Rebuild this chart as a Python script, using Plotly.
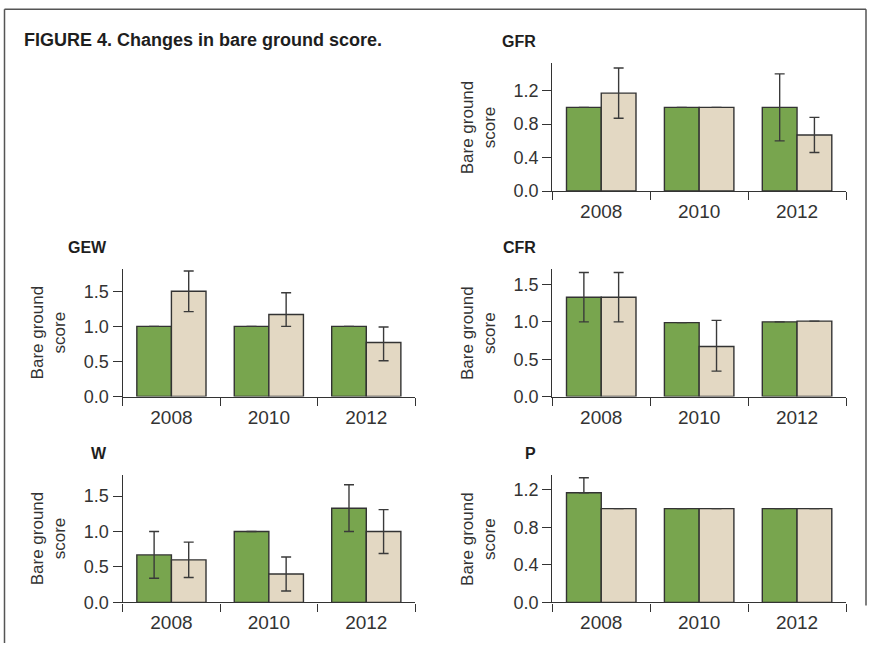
import plotly.graph_objects as go

# ---- data -------------------------------------------------------------
years = ["2008", "2010", "2012"]

panel_names = ["GFR", "GEW", "CFR", "W", "P"]

# green series (first bar of each pair)
gfr_green = [1.0, 1.0, 1.0]
gew_green = [1.0, 1.0, 1.0]
cfr_green = [1.33, 0.99, 1.0]
w_green = [0.67, 1.0, 1.33]
p_green = [1.17, 1.0, 1.0]

# beige series (second bar of each pair)
gfr_beige = [1.17, 1.0, 0.67]
gew_beige = [1.5, 1.17, 0.77]
cfr_beige = [1.33, 0.67, 1.01]
w_beige = [0.6, 0.4, 1.0]
p_beige = [1.0, 1.0, 1.0]

# error bars (upper / lower); None = no bar drawn
gfr_green_up = [None, None, 0.4]
gfr_green_dn = [None, None, 0.4]
gfr_beige_up = [0.3, None, 0.21]
gfr_beige_dn = [0.3, None, 0.21]
gew_green_up = [None, None, None]
gew_green_dn = [None, None, None]
gew_beige_up = [0.29, 0.31, 0.22]
gew_beige_dn = [0.29, 0.17, 0.26]
cfr_green_up = [0.33, None, None]
cfr_green_dn = [0.33, None, None]
cfr_beige_up = [0.33, 0.35, None]
cfr_beige_dn = [0.33, 0.33, None]
w_green_up = [0.33, None, 0.33]
w_green_dn = [0.33, None, 0.33]
w_beige_up = [0.25, 0.24, 0.31]
w_beige_dn = [0.25, 0.24, 0.31]
p_green_up = [0.16, None, None]
p_green_dn = [0.0, None, None]
p_beige_up = [None, None, None]
p_beige_dn = [None, None, None]

# y-axis ranges and ticks per panel
y_tops = [1.53, 1.82, 1.71, 1.80, 1.36]
y_ticks = [[0.0, 0.4, 0.8, 1.2],
           [0.0, 0.5, 1.0, 1.5],
           [0.0, 0.5, 1.0, 1.5],
           [0.0, 0.5, 1.0, 1.5],
           [0.0, 0.4, 0.8, 1.2]]

title_text = "FIGURE 4. Changes in bare ground score."
y_title = "Bare ground<br>score"

# ---- styling ----------------------------------------------------------
W, H = 869, 653
GREEN = "#78a54e"
BEIGE = "#e3d8c3"
EDGE = "#333333"
AXIS = "#333333"
FONT = "Liberation Sans, Arial, sans-serif"

# panel grid (pixels): left/right column x-extents, row y-extents
col_px = {"L": (122.7, 415.0), "R": (552.3, 846.0)}
row_px = [(64.0, 194.0), (273.0, 402.7), (482.3, 611.7)]
placement = [("R", 0), ("L", 1), ("R", 1), ("L", 2), ("R", 2)]

series = [
    (gfr_green, gfr_green_up, gfr_green_dn, gfr_beige, gfr_beige_up, gfr_beige_dn),
    (gew_green, gew_green_up, gew_green_dn, gew_beige, gew_beige_up, gew_beige_dn),
    (cfr_green, cfr_green_up, cfr_green_dn, cfr_beige, cfr_beige_up, cfr_beige_dn),
    (w_green, w_green_up, w_green_dn, w_beige, w_beige_up, w_beige_dn),
    (p_green, p_green_up, p_green_dn, p_beige, p_beige_up, p_beige_dn),
]

fig = go.Figure()
annotations = []

for i, (name, (col, row), data) in enumerate(zip(panel_names, placement, series)):
    n = i + 1
    xs = "" if n == 1 else str(n)
    g, g_up, g_dn, b, b_up, b_dn = data
    for vals, up, dn, color in ((g, g_up, g_dn, GREEN), (b, b_up, b_dn, BEIGE)):
        fig.add_trace(go.Bar(
            x=years, y=vals,
            xaxis="x" + xs, yaxis="y" + xs,
            marker=dict(color=color, line=dict(color=EDGE, width=1.4)),
            error_y=dict(type="data", symmetric=False, array=up, arrayminus=dn,
                         color="#3a3a3a", thickness=1.4, width=5),
            showlegend=False, hoverinfo="skip",
        ))

    x0, x1 = col_px[col]
    y0, y1 = row_px[row]
    xdom = [x0 / W, x1 / W]
    ydom = [1 - y1 / H, 1 - y0 / H]

    fig.layout["xaxis" + xs] = dict(
        domain=xdom, anchor="y" + xs, type="category",
        range=[-0.5, 2.5], tickson="boundaries",
        ticks="outside", ticklen=8, tickwidth=1.4, tickcolor=AXIS,
        ticklabelstandoff=3,
        showline=True, linecolor=AXIS, linewidth=1.4,
        showgrid=False, zeroline=False,
        tickfont=dict(family=FONT, size=19, color="#333333"),
        fixedrange=True,
    )
    fig.layout["yaxis" + xs] = dict(
        domain=ydom, anchor="x" + xs,
        range=[0, y_tops[i]], tickvals=y_ticks[i],
        ticktext=[f"{v:.1f}" for v in y_ticks[i]],
        ticks="outside", ticklen=9, tickwidth=1.4, tickcolor=AXIS,
        showline=True, linecolor=AXIS, linewidth=1.4,
        showgrid=False, zeroline=False,
        tickfont=dict(family=FONT, size=18, color="#333333"),
        fixedrange=True,
    )

    # panel label, right-aligned just left of the y axis
    annotations.append(dict(
        text=f"<b>{name}</b>", xref="paper", yref="paper",
        x=xdom[0], y=ydom[1], xanchor="right", yanchor="middle",
        xshift=-14, yshift=21.5, showarrow=False,
        font=dict(family=FONT, size=16, color="#1e1e1e"),
    ))
    # y axis title
    annotations.append(dict(
        text=y_title, xref="paper", yref="paper",
        x=xdom[0], y=(ydom[0] + ydom[1]) / 2, xanchor="center", yanchor="middle",
        xshift=-74, textangle=-90, showarrow=False,
        font=dict(family=FONT, size=17, color="#333333"),
    ))

annotations.append(dict(
    text=f"<b>{title_text}</b>", xref="paper", yref="paper",
    x=22 / W, y=1 - 41 / H, xanchor="left", yanchor="middle",
    showarrow=False, font=dict(family=FONT, size=18, color="#1e1e1e"),
))

# surrounding frame (open at the bottom)
frame = dict(type="line", xref="paper", yref="paper",
             line=dict(color="#555555", width=1.5))
shapes = [
    dict(frame, x0=4.5 / W, x1=866 / W, y0=1 - 9.5 / H, y1=1 - 9.5 / H),
    dict(frame, x0=4.5 / W, x1=4.5 / W, y0=1 - 9.5 / H, y1=0),
    dict(frame, x0=866 / W, x1=866 / W, y0=1 - 9.5 / H, y1=1 - 615 / H),
]

fig.update_layout(
    width=W, height=H,
    margin=dict(l=0, r=0, t=0, b=0),
    paper_bgcolor="white", plot_bgcolor="white",
    barmode="group", bargap=0.29, bargroupgap=0,
    annotations=annotations, shapes=shapes,
    showlegend=False,
)

fig.write_html("out.html")
